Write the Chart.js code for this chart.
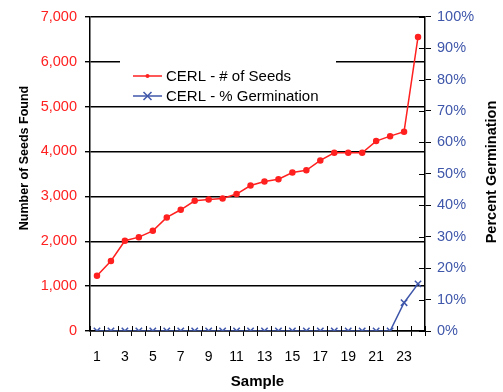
<!DOCTYPE html>
<html>
<head>
<meta charset="utf-8">
<script src="https://cdn.jsdelivr.net/npm/chart.js@4/dist/chart.umd.min.js"></script>
<style>
  html, body { margin: 0; padding: 0; background: #ffffff; }
  #wrap { position: relative; width: 503px; height: 392px; }
</style>
</head>
<body>
<div id="wrap"><canvas id="c" width="503" height="392"></canvas></div>
<script>
// ---- data ----
const samples = ["1","2","3","4","5","6","7","8","9","10","11","12","13","14","15","16","17","18","19","20","21","22","23","24"];
const seedsFound = [1230, 1560, 2010, 2090, 2230, 2530, 2700, 2900, 2930, 2950, 3050, 3240, 3330, 3380, 3530, 3580, 3800, 3970, 3970, 3970, 4230, 4340, 4440, 6550];
const germinationPct = [0, 0, 0, 0, 0, 0, 0, 0, 0, 0, 0, 0, 0, 0, 0, 0, 0, 0, 0, 0, 0, 0, 9, 15];
const seriesNames = ["CERL - # of Seeds", "CERL - % Germination"];
const axisTitles = { x: "Sample", y: "Number of Seeds Found", y1: "Percent Germination" };

const FONT = '"Liberation Sans", Arial, sans-serif';
const RED = '#ff2020';
const BLUE = '#3f57aa';

// inward tick marks (ticks crossing the axis line) + vertical axis titles
const crossTicks = {
  id: 'crossTicks',
  afterDraw(chart) {
    const ctx = chart.ctx;
    const xs = chart.scales.x, y1 = chart.scales.y1;
    const ca = chart.chartArea;
    ctx.save();
    ctx.strokeStyle = '#000';
    ctx.lineWidth = 1;
    ctx.beginPath();
    const n = samples.length;
    const step = (xs.getPixelForValue(1) - xs.getPixelForValue(0));
    for (let i = 0; i <= n; i++) {
      const px = Math.round(xs.getPixelForValue(0) - step / 2 + i * step) + 0.5;
      ctx.moveTo(px, ca.bottom);
      ctx.lineTo(px, ca.bottom - 5);
    }
    for (let v = 0; v <= 100; v += 10) {
      const py = Math.round(y1.getPixelForValue(v)) + 0.5;
      ctx.moveTo(ca.right, py);
      ctx.lineTo(ca.right - 6, py);
    }
    ctx.stroke();

    // vertical titles, both reading bottom-to-top
    ctx.fillStyle = '#000';
    ctx.textAlign = 'center';
    ctx.textBaseline = 'middle';
    ctx.save();
    ctx.translate(25, 158);
    ctx.rotate(-Math.PI / 2);
    ctx.font = 'bold 12.5px ' + FONT;
    ctx.fillText(axisTitles.y, 0, 0);
    ctx.restore();
    ctx.save();
    ctx.translate(492, 172);
    ctx.rotate(-Math.PI / 2);
    ctx.font = 'bold 14.5px ' + FONT;
    ctx.fillText(axisTitles.y1, 0, 0);
    ctx.restore();
    ctx.restore();
  }
};

// legend box inside the plot
const innerLegend = {
  id: 'innerLegend',
  beforeDatasetsDraw(chart) {
    const ctx = chart.ctx;
    ctx.save();
    ctx.fillStyle = '#fff';
    ctx.fillRect(120, 56, 216, 48);
    const rows = [
      { y: 76, color: RED, name: seriesNames[0], marker: 'dot' },
      { y: 96, color: BLUE, name: seriesNames[1], marker: 'x' }
    ];
    rows.forEach(r => {
      ctx.strokeStyle = r.color;
      ctx.lineWidth = 1.5;
      ctx.beginPath();
      ctx.moveTo(133, r.y); ctx.lineTo(162, r.y);
      ctx.stroke();
      const cx = 147.5;
      if (r.marker === 'dot') {
        ctx.fillStyle = r.color;
        ctx.beginPath(); ctx.arc(cx, r.y, 2, 0, Math.PI * 2); ctx.fill();
      } else {
        ctx.beginPath();
        ctx.moveTo(cx - 4, r.y - 4); ctx.lineTo(cx + 4, r.y + 4);
        ctx.moveTo(cx - 4, r.y + 4); ctx.lineTo(cx + 4, r.y - 4);
        ctx.stroke();
      }
      ctx.fillStyle = '#000';
      ctx.font = '15px ' + FONT;
      ctx.textBaseline = 'middle';
      ctx.textAlign = 'left';
      ctx.fillText(r.name, 166, r.y + 1);
    });
    ctx.restore();
  }
};

new Chart(document.getElementById('c'), {
  type: 'line',
  data: {
    labels: samples,
    datasets: [
      {
        label: seriesNames[0],
        data: seedsFound,
        yAxisID: 'y',
        borderColor: RED,
        backgroundColor: RED,
        borderWidth: 1.5,
        pointRadius: 2.5,
        pointStyle: 'circle',
        tension: 0
      },
      {
        label: seriesNames[1],
        data: germinationPct,
        yAxisID: 'y1',
        borderColor: BLUE,
        backgroundColor: BLUE,
        borderWidth: 1.5,
        pointRadius: 4.5,
        pointStyle: 'crossRot',
        pointBorderWidth: 1.5,
        tension: 0
      }
    ]
  },
  options: {
    responsive: false,
    animation: false,
    layout: { padding: { top: 16, left: 0, right: 0, bottom: 0 } },
    plugins: { legend: { display: false }, tooltip: { enabled: false } },
    scales: {
      x: {
        type: 'category',
        offset: true,
        afterFit(s) { s.height = 61; },
        grid: { display: true, offset: true, drawOnChartArea: false, drawTicks: true, tickLength: 5, color: '#000', lineWidth: 1 },
        border: { display: true, color: '#000', width: 1.5 },
        ticks: {
          autoSkip: false, maxRotation: 0, padding: 13, color: '#000',
          font: { family: FONT, size: 14 },
          callback(v, i) { return i % 2 === 0 ? samples[i] : ''; }
        },
        title: { display: true, text: axisTitles.x, color: '#000', font: { family: FONT, size: 15, weight: 'bold' }, padding: { top: 0, bottom: 1 } }
      },
      y: {
        position: 'left',
        min: 0, max: 7000,
        afterFit(s) { s.width = 90; },
        grid: { display: true, drawOnChartArea: true, drawTicks: true, tickLength: 5, color: '#000', lineWidth: 1.4 },
        border: { display: true, color: '#000', width: 1.5 },
        ticks: {
          stepSize: 1000, padding: 8, color: RED,
          font: { family: FONT, size: 14.5 },
          callback(v) { return v.toLocaleString('en-US'); }
        },
        title: { display: false }
      },
      y1: {
        position: 'right',
        min: 0, max: 100,
        afterFit(s) { s.width = 78; },
        grid: { display: true, drawOnChartArea: false, drawTicks: true, tickLength: 6, color: '#000', lineWidth: 1 },
        border: { display: true, color: '#000', width: 1.5 },
        ticks: {
          stepSize: 10, padding: 6, color: BLUE,
          font: { family: FONT, size: 14.5 },
          callback(v) { return v + '%'; }
        },
        title: { display: false }
      }
    }
  },
  plugins: [innerLegend, crossTicks]
});
</script>
</body>
</html>
